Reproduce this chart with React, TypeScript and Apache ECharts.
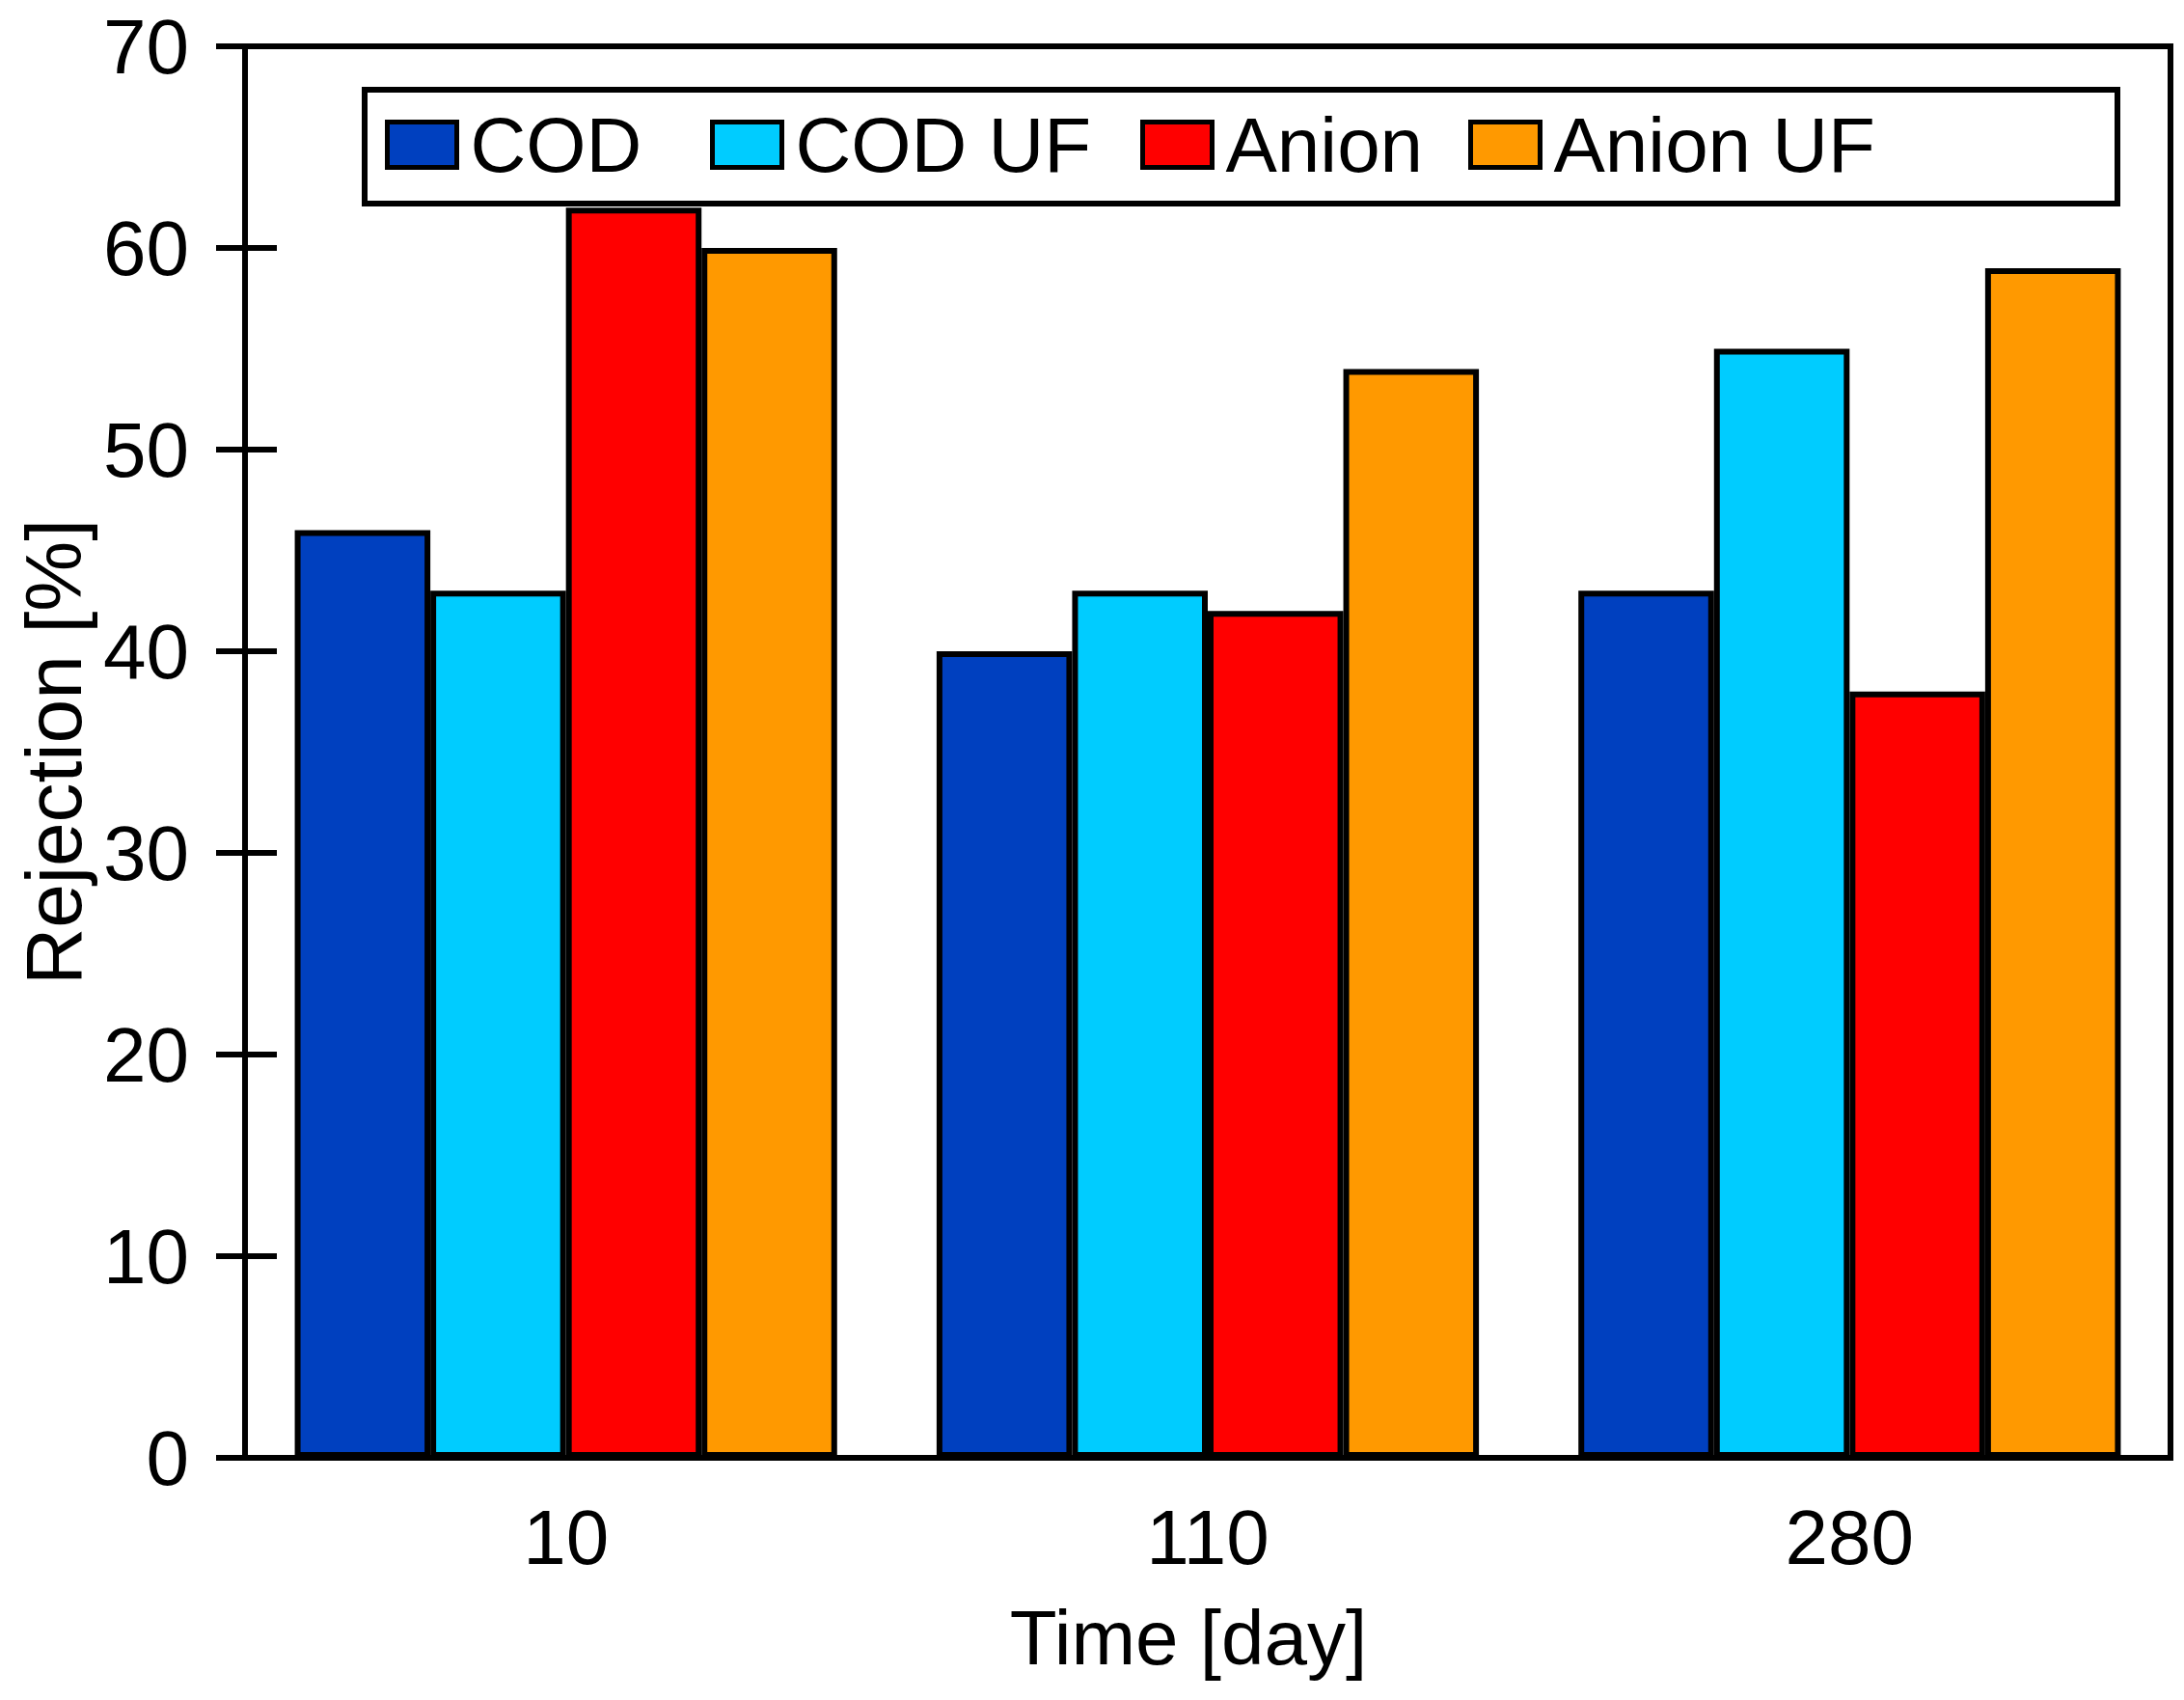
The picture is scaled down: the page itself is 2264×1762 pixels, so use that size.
import React, { useEffect, useRef } from "react";
import * as echarts from "echarts";

const categories = ["10", "110", "280"];
const seriesNames = ["COD", "COD UF", "Anion", "Anion UF"];
const codValues = [46, 40, 43];
const codUfValues = [43, 43, 55];
const anionValues = [62, 42, 38];
const anionUfValues = [60, 54, 59];
const colors = ["#0040BF", "#00CCFF", "#FF0000", "#FF9900"];
const yTicks = { min: 0, max: 70, interval: 10 };

const FONT = "'Liberation Sans', Arial, Helvetica, sans-serif";

export default function App() {
  const ref = useRef<HTMLDivElement>(null);
  useEffect(() => {
    document.body.style.margin = "0";
    if (!ref.current) return;
    const chart = echarts.init(ref.current, null, { renderer: "svg" });
    const values = [codValues, codUfValues, anionValues, anionUfValues];
    const legendLefts = [399, 736, 1182, 1522];
    const option: any = {
      animation: false,
      backgroundColor: "#ffffff",
      textStyle: { fontFamily: FONT },
      grid: {
        left: 254,
        right: 14,
        top: 48,
        bottom: 251,
        show: true,
        borderColor: "#000",
        borderWidth: 6,
        backgroundColor: "transparent",
      },
      legend: seriesNames.map((n, i) => ({
        data: [n],
        left: legendLefts[i],
        top: 110,
        padding: 0,
        itemWidth: 72,
        itemHeight: 47,
        selectedMode: false,
        icon: "rect",
        itemStyle: { borderColor: "#000", borderWidth: 5 },
        textStyle: {
          fontFamily: FONT,
          fontSize: 80,
          color: "#000",
          padding: [0, 0, 0, 9],
        },
      })),
      graphic: [
        {
          type: "rect",
          left: 375,
          top: 90,
          shape: { width: 1817, height: 118 },
          style: { fill: "transparent", stroke: "#000", lineWidth: 6 },
          z: 10,
        },
      ],
      xAxis: {
        type: "category",
        data: categories,
        name: "Time [day]",
        nameLocation: "middle",
        nameGap: 146,
        nameTextStyle: { fontFamily: FONT, fontSize: 80, color: "#000", padding: [0, 40, 0, 0] },
        axisLine: { lineStyle: { color: "#000", width: 6 } },
        axisTick: { show: false },
        axisLabel: { fontFamily: FONT, fontSize: 80, color: "#000", margin: 42 },
        splitLine: { show: false },
      },
      yAxis: [
        {
          type: "value",
          position: "left",
          min: yTicks.min,
          max: yTicks.max,
          interval: yTicks.interval,
          name: "Rejection [%]",
          nameLocation: "middle",
          nameGap: 150,
          nameTextStyle: { fontFamily: FONT, fontSize: 82, color: "#000" },
          axisLine: { show: true, lineStyle: { color: "#000", width: 6 } },
          axisTick: { show: true, inside: false, length: 30, lineStyle: { color: "#000", width: 6 } },
          axisLabel: { fontFamily: FONT, fontSize: 80, color: "#000", margin: 58 },
          splitLine: { show: false },
        },
        {
          type: "value",
          position: "left",
          min: yTicks.min,
          max: yTicks.max,
          interval: yTicks.interval,
          axisLine: { show: false },
          axisTick: { show: true, inside: true, length: 33, lineStyle: { color: "#000", width: 6 } },
          axisLabel: { show: false },
          splitLine: { show: false },
        },
      ],
      series: seriesNames.map((n, i) => ({
        name: n,
        type: "bar",
        yAxisIndex: 0,
        data: values[i],
        barGap: "0%",
        barCategoryGap: "15.5%",
        itemStyle: { color: colors[i], borderColor: "#000", borderWidth: 6 },
      })),
    };
    chart.setOption(option);
    return () => chart.dispose();
  }, []);
  return <div ref={ref} style={{ width: 2264, height: 1762 }} />;
}
